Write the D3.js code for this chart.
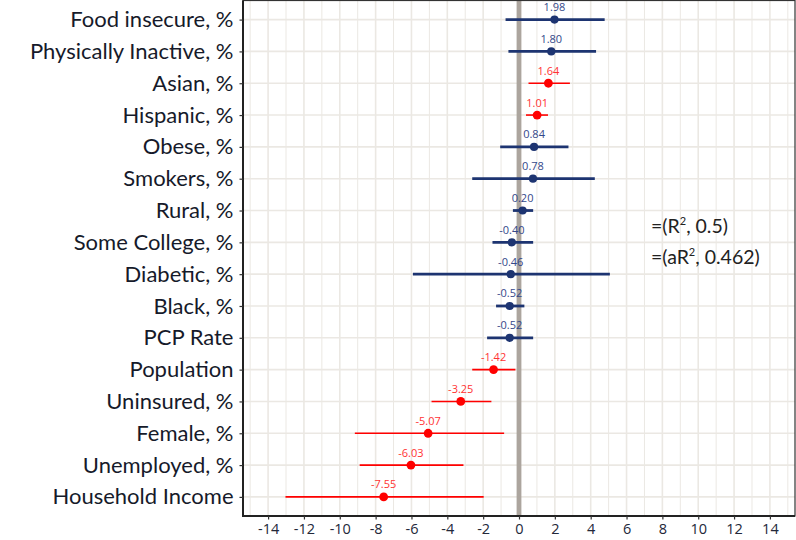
<!DOCTYPE html>
<html>
<head>
<meta charset="utf-8">
<script src="https://cdn.jsdelivr.net/npm/d3@7"></script>
<style>
  html, body { margin: 0; padding: 0; background: #fff; }
  svg { display: block; }
</style>
</head>
<body>
<svg id="chart" width="796" height="540"></svg>
<script>
// Regression coefficients with confidence intervals
const variables = ["Food insecure, %", "Physically Inactive, %", "Asian, %", "Hispanic, %",
  "Obese, %", "Smokers, %", "Rural, %", "Some College, %", "Diabetic, %", "Black, %",
  "PCP Rate", "Population", "Uninsured, %", "Female, %", "Unemployed, %", "Household Income"];
const estimates = [1.98, 1.80, 1.64, 1.01, 0.84, 0.78, 0.20, -0.40, -0.46, -0.52, -0.52,
  -1.42, -3.25, -5.07, -6.03, -7.55];
const lower = [-0.75, -0.59, 0.53, 0.39, -1.05, -2.61, -0.34, -1.48, -5.92, -1.28, -1.78,
  -2.61, -4.88, -9.16, -8.89, -13.03];
const upper = [4.78, 4.30, 2.84, 1.62, 2.76, 4.23, 0.79, 0.79, 5.07, 0.30, 0.79,
  -0.20, -1.54, -0.83, -3.10, -1.97];
const significant = [false, false, true, true, false, false, false, false, false, false, false,
  true, true, true, true, true];
const xTicks = [-14, -12, -10, -8, -6, -4, -2, 0, 2, 4, 6, 8, 10, 12, 14];
const fitStats = [["R", "0.5"], ["aR", "0.462"]];

const rows = variables.map((v, i) => ({
  name: v, est: estimates[i], lo: lower[i], hi: upper[i], sig: significant[i]
}));

const svg = d3.select("#chart");
const pLeft = 243, pRight = 795, pTop = 0.5, pBottom = 516;

const x = d3.scaleLinear().domain([-15.4, 15.4]).range([pLeft, pRight]);
const y = d3.scalePoint().domain(variables).range([pTop, pBottom]).padding(0.6);

const navy = "#1d3471", red = "#ff0000";
const navyText = "#34488a", redText = "#ff3333";
const grid = "#ebe8e3";
const fmt = v => d3.format(".2f")(v).replace("\u2212", "-");

const g = svg.append("g");

// minor vertical grid
g.selectAll("line.minor").data(d3.range(-15, 16, 2)).join("line")
  .attr("class", "minor")
  .attr("x1", d => x(d)).attr("x2", d => x(d))
  .attr("y1", pTop).attr("y2", pBottom)
  .attr("stroke", grid).attr("stroke-width", 1);

// major vertical grid
g.selectAll("line.majorx").data(xTicks).join("line")
  .attr("class", "majorx")
  .attr("x1", d => x(d)).attr("x2", d => x(d))
  .attr("y1", pTop).attr("y2", pBottom)
  .attr("stroke", grid).attr("stroke-width", 1.6);

// horizontal grid per variable
g.selectAll("line.majory").data(variables).join("line")
  .attr("class", "majory")
  .attr("x1", pLeft).attr("x2", pRight)
  .attr("y1", d => y(d)).attr("y2", d => y(d))
  .attr("stroke", grid).attr("stroke-width", 1.6);

// zero reference line
g.append("line")
  .attr("x1", x(0)).attr("x2", x(0))
  .attr("y1", pTop).attr("y2", pBottom)
  .attr("stroke", "#aca59e").attr("stroke-width", 4.8);

// confidence intervals
g.selectAll("line.ci").data(rows).join("line")
  .attr("class", "ci")
  .attr("x1", d => x(d.lo)).attr("x2", d => x(d.hi))
  .attr("y1", d => y(d.name)).attr("y2", d => y(d.name))
  .attr("stroke", d => d.sig ? red : navy)
  .attr("stroke-width", d => d.sig ? 1.6 : 2.8);

// point estimates
g.selectAll("circle.est").data(rows).join("circle")
  .attr("class", "est")
  .attr("cx", d => x(d.est)).attr("cy", d => y(d.name))
  .attr("r", d => d.sig ? 4.4 : 4.1)
  .attr("fill", d => d.sig ? red : navy);

// value labels
g.selectAll("text.val").data(rows).join("text")
  .attr("class", "val")
  .attr("x", d => x(d.est)).attr("y", d => y(d.name) - 8.5)
  .attr("text-anchor", "middle")
  .attr("font-family", "'Open Sans', sans-serif")
  .attr("font-size", 11)
  .attr("fill", d => d.sig ? redText : navyText)
  .text(d => fmt(d.est));

// panel border
svg.append("rect")
  .attr("x", pLeft).attr("y", pTop)
  .attr("width", pRight - pLeft).attr("height", pBottom - pTop)
  .attr("fill", "none").attr("stroke", "#333").attr("stroke-width", 1.2);
svg.append("line")
  .attr("x1", pLeft).attr("x2", pLeft).attr("y1", pTop).attr("y2", pBottom + 1)
  .attr("stroke", "#222").attr("stroke-width", 2);
svg.append("line")
  .attr("x1", pLeft - 1).attr("x2", pRight).attr("y1", pBottom).attr("y2", pBottom)
  .attr("stroke", "#222").attr("stroke-width", 2);

// x axis
const xAxis = svg.append("g")
  .attr("transform", `translate(0,${pBottom})`)
  .call(d3.axisBottom(x).tickValues(xTicks).tickSize(3.5).tickPadding(4).tickFormat(d3.format("d")));
xAxis.select(".domain").remove();
xAxis.selectAll("line").attr("stroke", "#333").attr("stroke-width", 1.2);
xAxis.selectAll("text")
  .attr("font-family", "'Open Sans', sans-serif")
  .attr("font-size", 14.5)
  .attr("fill", "#23283a")
  .text(d => String(d));

// y axis
const yAxis = svg.append("g")
  .attr("transform", `translate(${pLeft},0)`)
  .call(d3.axisLeft(y).tickSize(3.5).tickPadding(6));
yAxis.select(".domain").remove();
yAxis.selectAll("line").attr("stroke", "#333").attr("stroke-width", 1.2);
yAxis.selectAll("text")
  .attr("font-family", "Lato, sans-serif")
  .attr("font-size", 22)
  .attr("fill", "#161a2a");

// model fit statistics
const stats = svg.append("g")
  .attr("font-family", "Lato, sans-serif")
  .attr("font-size", 19.5)
  .attr("fill", "#222");
fitStats.forEach((s, i) => {
  const t = stats.append("text").attr("x", 651).attr("y", 233 + i * 31);
  t.append("tspan").text("=(" + s[0]);
  t.append("tspan").attr("font-size", 11).attr("dy", -8).text("2");
  t.append("tspan").attr("dy", 8).text(", " + s[1] + ")");
});
</script>
</body>
</html>
